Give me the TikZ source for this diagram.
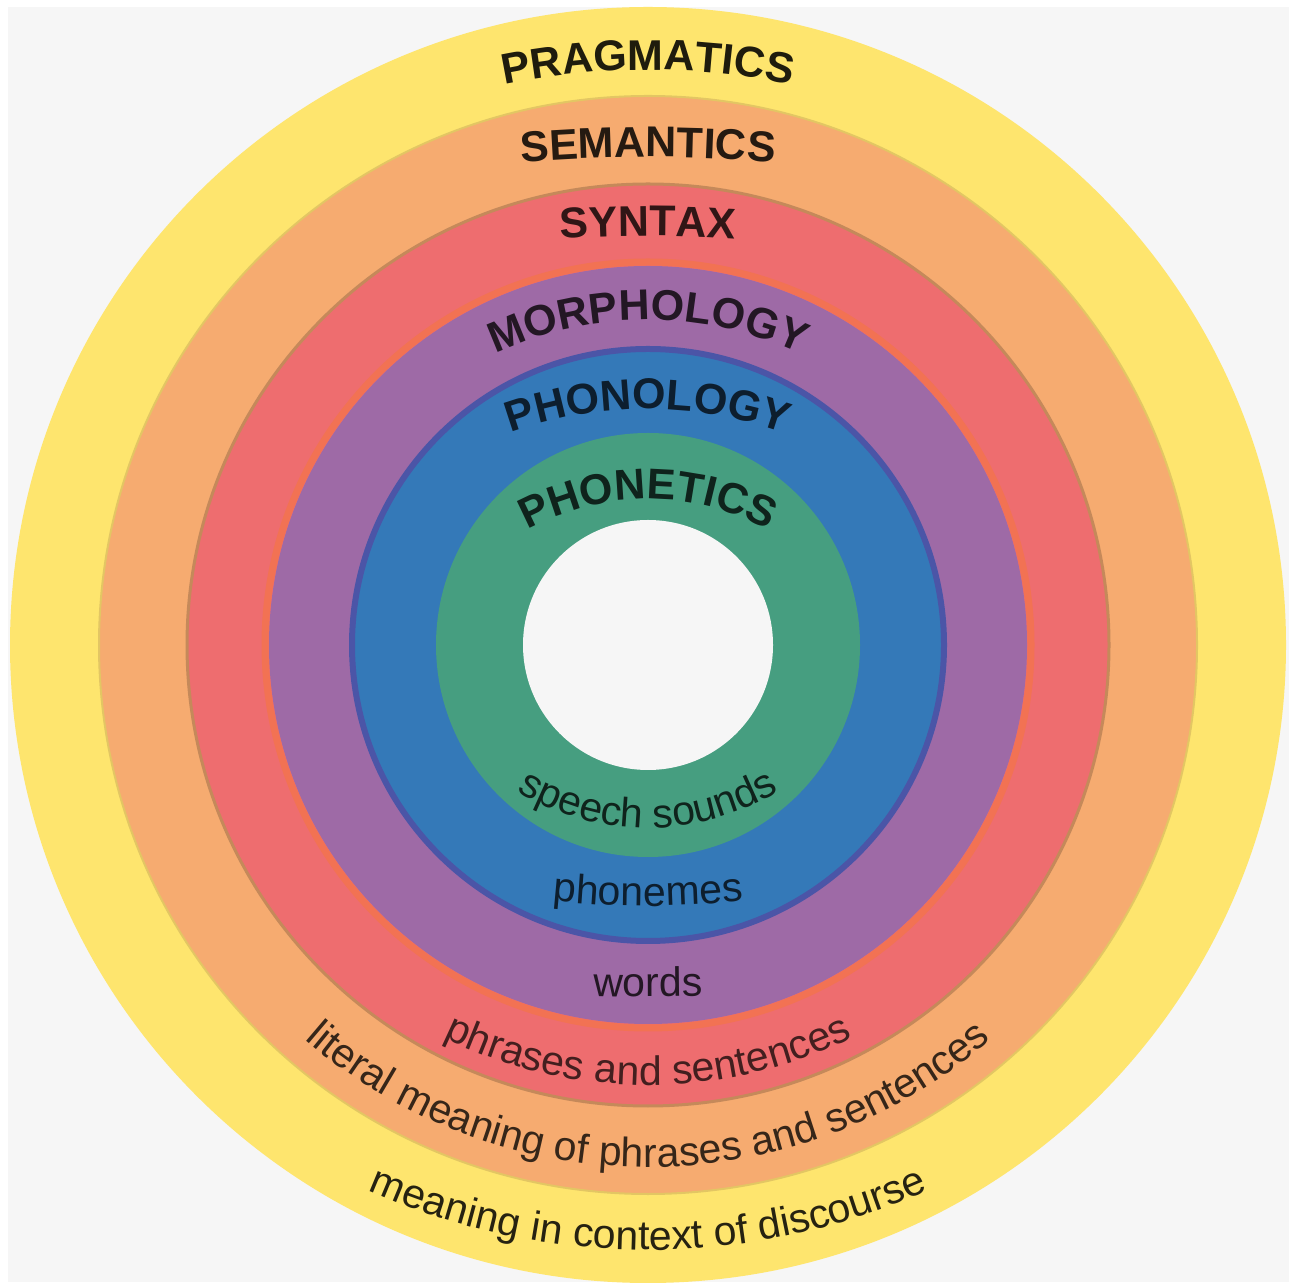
\documentclass[tikz,border=0pt]{standalone}
\usepackage{fontspec}
\setmainfont{Liberation Sans}
\usetikzlibrary{decorations.text}

\definecolor{bggray}{HTML}{F6F6F6}
\definecolor{ringyellow}{HTML}{FEE56E}
\definecolor{ringorange}{HTML}{F6AB70}
\definecolor{ringred}{HTML}{EE6D6F}
\definecolor{ringpurple}{HTML}{9E6AA6}
\definecolor{ringblue}{HTML}{3479B8}
\definecolor{ringgreen}{HTML}{469E80}

% #1 baseline height, #2 radius of the arc, #3 half angle, #4 colour, #5 text
\newcommand{\toplabel}[5]{%
  \path[decorate,decoration={text along path,text align=center,
      text={|\fontsize{43}{50}\selectfont\bfseries\color{#4}|#5}}]
    (648,#1-#2) ++(90+#3:#2) arc[start angle=90+#3,end angle=90-#3,radius=#2];}
\newcommand{\botlabel}[5]{%
  \path[decorate,decoration={text along path,text align=center,
      text={|\fontsize{41}{48}\selectfont\color{#4}|#5}}]
    (648,#1+#2) ++(270-#3:#2) arc[start angle=270-#3,end angle=270+#3,radius=#2];}

\begin{document}
\begin{tikzpicture}[x=1pt,y=1pt]
  \useasboundingbox (0,0) rectangle (1289,1282);
  \fill[white] (0,0) rectangle (1289,1282);
  \fill[bggray] (8,0) rectangle (1289,1275);
  \coordinate (ctr) at (648,637);
  \begin{scope}
    \clip (8,0) rectangle (1289,1275);
    \fill[ringyellow] (ctr) circle[radius=638];
    \fill[ringorange] (ctr) circle[radius=549];
    \fill[ringred] (ctr) circle[radius=460];
    \fill[ringpurple] (ctr) circle[radius=379];
    \fill[ringblue] (ctr) circle[radius=298];
    \fill[ringgreen] (ctr) circle[radius=212];
    \fill[bggray] (ctr) circle[radius=125];
    % bordes entre anillos
    \draw[ringyellow!85!ringorange!90!black,line width=2] (ctr) circle[radius=549];
    \draw[ringorange!80!black,line width=3] (ctr) circle[radius=461];
    \draw[ringred!75!orange,line width=7] (ctr) circle[radius=383];
    \draw[ringblue!70!violet,line width=6] (ctr) circle[radius=296];
  \end{scope}

  \toplabel{1212}{700}{25}{black!88!ringyellow}{PRAGMATICS}
  \toplabel{1125}{1500}{15}{black!85!ringorange}{SEMANTICS}
  \toplabel{1046}{1300}{12}{black!80!ringred}{SYNTAX}
  \toplabel{962}{360}{45}{black!78!ringpurple}{MORPHOLOGY}
  \toplabel{873}{400}{40}{black!75!ringblue}{PHONOLOGY}
  \toplabel{783}{250}{50}{black!78!ringgreen}{PHONETICS}

  \botlabel{454}{250}{55}{black!78!ringgreen}{speech sounds}
  \botlabel{376}{900}{20}{black!75!ringblue}{phonemes}
  \botlabel{285}{2000}{8}{black!78!ringpurple}{words}
  \botlabel{197}{464}{45}{black!72!ringred}{phrases and sentences}
  \botlabel{115}{525}{60}{black!78!ringorange}{literal meaning of phrases and sentences}
  \botlabel{32}{690}{40}{black!85!ringyellow}{meaning in context of discourse}
\end{tikzpicture}
\end{document}
